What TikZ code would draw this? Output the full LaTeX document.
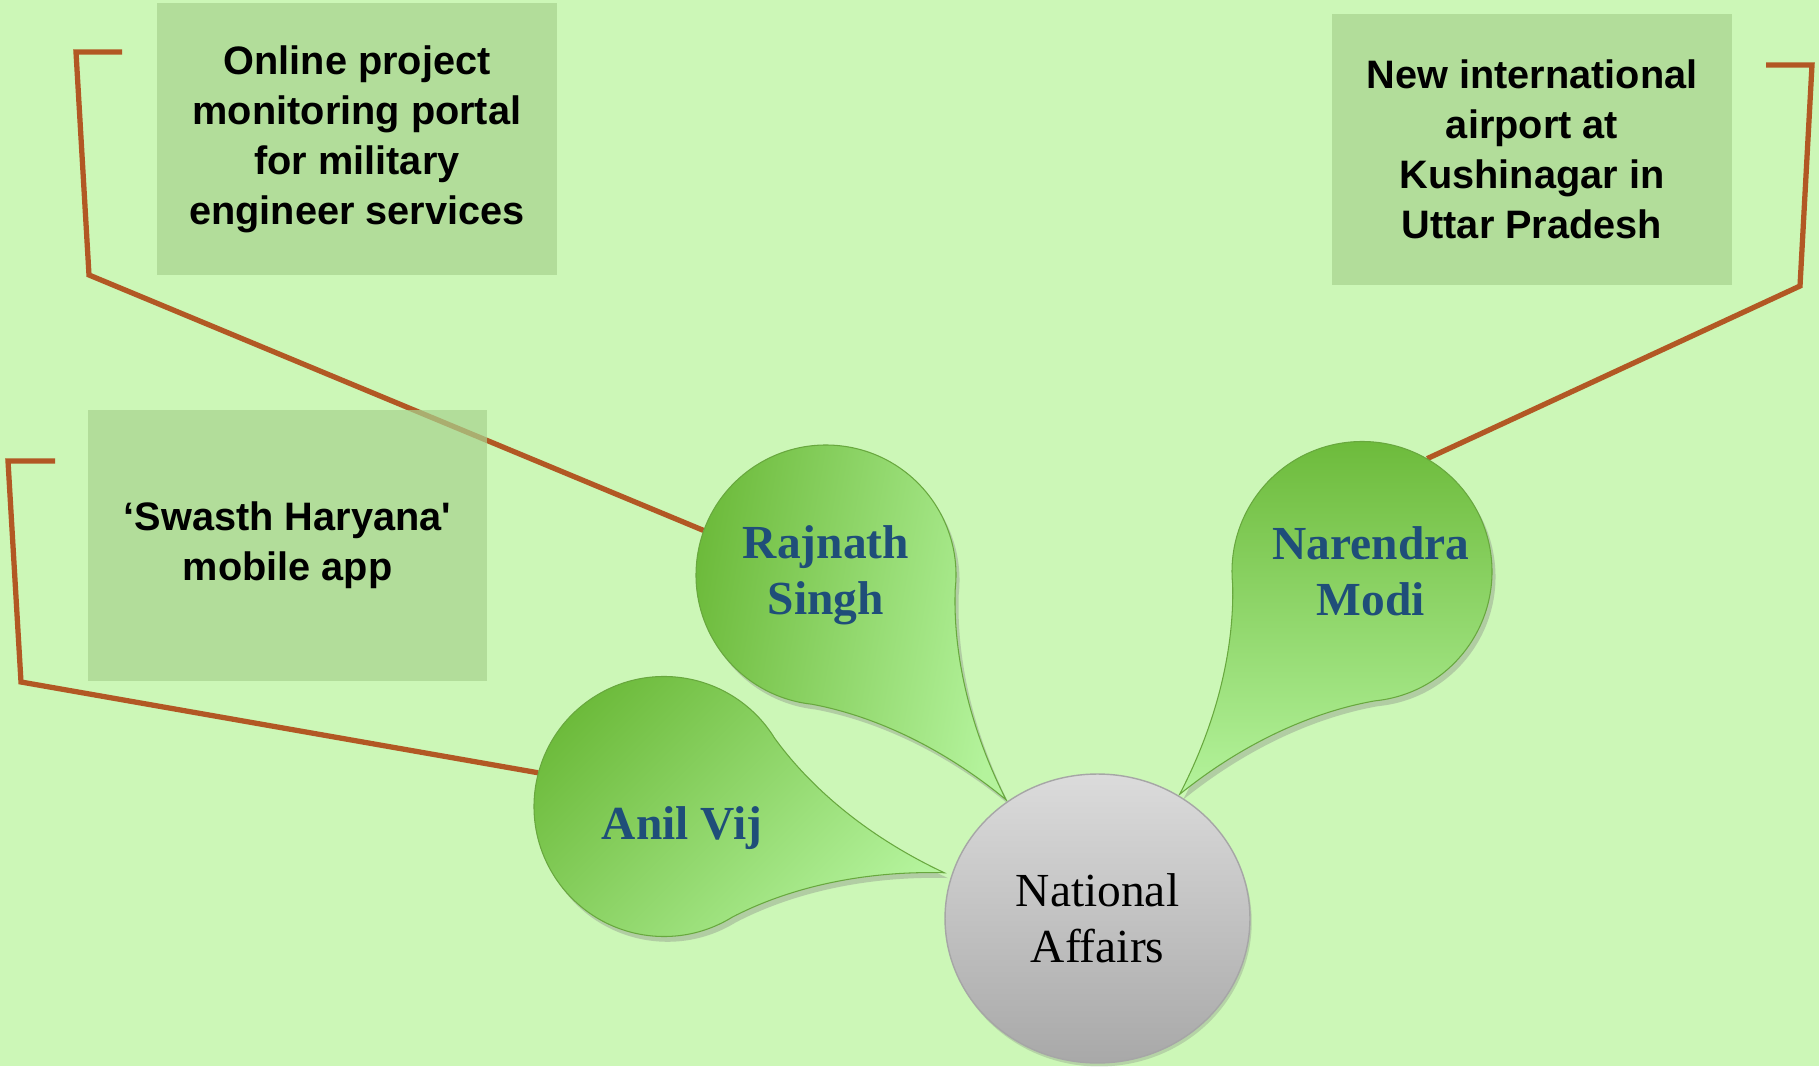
\documentclass[tikz,border=0pt]{standalone}
\usepackage{fontspec}
\setmainfont{Liberation Serif}
\newfontfamily\boxfont{Liberation Sans}
\usetikzlibrary{shapes,shadows}
\pgfdeclarelayer{back}
\pgfsetlayers{back,main}
\definecolor{pagegreen}{RGB}{204,247,183}
\definecolor{boxgreen}{RGB}{168,211,143}
\definecolor{leafdark}{RGB}{108,186,58}
\definecolor{leaflight}{RGB}{180,243,156}
\definecolor{leafedge}{RGB}{104,168,62}
\definecolor{namecol}{RGB}{31,78,121}
\definecolor{leadcol}{RGB}{178,88,36}

\begin{document}
\begin{tikzpicture}[x=0.02cm,y=0.02cm,
    news box/.style={rectangle,fill=boxgreen,fill opacity=0.7,text opacity=1,
      minimum width=8cm,minimum height=5.43cm,align=center,
      font=\boxfont\fontsize{22.6}{28.4}\selectfont\bfseries},
    leaf/.style={draw=leafedge,line width=0.6pt,top color=leafdark,bottom color=leaflight,
      drop shadow={shadow xshift=2pt,shadow yshift=-3pt,opacity=0.35}},
    name node/.style={circle,minimum size=5.2cm,inner sep=0pt,align=center,
      text=namecol,font=\fontsize{27}{32}\selectfont\bfseries},
    hub node/.style={ellipse,draw=gray!70,line width=0.8pt,top color=gray!28,bottom color=gray!68,
      minimum width=6.1cm,minimum height=5.78cm,align=center,font=\fontsize{27}{32}\selectfont,
      drop shadow={shadow xshift=1pt,shadow yshift=-2pt,opacity=0.3}},
    leader/.style={draw=leadcol,line width=3pt}]

  \useasboundingbox (0,0) rectangle (1819,1066);

  \foreach \cx/\cy/\a/\sh in {826/491/-51.3/80, 1362/494.5/-129.3/0, 664/259.5/-13.3/45}{
    \begin{scope}[shift={(\cx,\cy)}]
      \draw[leaf,shading angle=\sh] (\a:288) .. controls ({\a+5.7}:196) and ({\a+24.2}:143) .. ({\a+45}:130)
        arc[start angle=\a+45,delta angle=270,radius=130]
        .. controls ({\a-24.2}:143) and ({\a-5.7}:196) .. (\a:288) -- cycle;
    \end{scope}
  }

  \node[name node] (1) at (826,491) {Rajnath\\Singh};
  \node[name node] (2) at (1362,494.5) {\hspace*{0.36cm}Narendra\\\hspace*{0.36cm}Modi};
  \node[name node] (3) at (664,259.5) {\hspace*{0.72cm}\raisebox{-0.66cm}[0pt][0pt]{Anil Vij}};
  \node[hub node] (0) at (1097.5,147.5) {National\\Affairs};

  \node[news box] (4) at (357,927) {Online project\\monitoring portal\\for military\\engineer services};
  \node[news box] (5) at (1532,916.5) {New international\\airport at\\Kushinagar in\\Uttar Pradesh};
  \node[news box] (6) at (287.5,520.5) {‘Swasth Haryana\textquotesingle\\mobile app};

  \begin{pgfonlayer}{back}
    \fill[pagegreen] (0,0) rectangle (1819,1066);
    \coordinate (1b) at (89,791);
    \coordinate (1c) at (76,1014);
    \coordinate (1d) at (122,1014);
    \coordinate (2b) at (1800,780);
    \coordinate (2c) at (1812,1001);
    \coordinate (2d) at (1766,1001);
    \coordinate (3b) at (21,384);
    \coordinate (3c) at (8,605);
    \coordinate (3d) at (55,605);
    \draw[leader] (1.160) -- (1b) -- (1c) -- (1d);
    \draw[leader] (2.60) -- (2b) -- (2c) -- (2d);
    \draw[leader] (3.165) -- (3b) -- (3c) -- (3d);
  \end{pgfonlayer}
\end{tikzpicture}
\end{document}
